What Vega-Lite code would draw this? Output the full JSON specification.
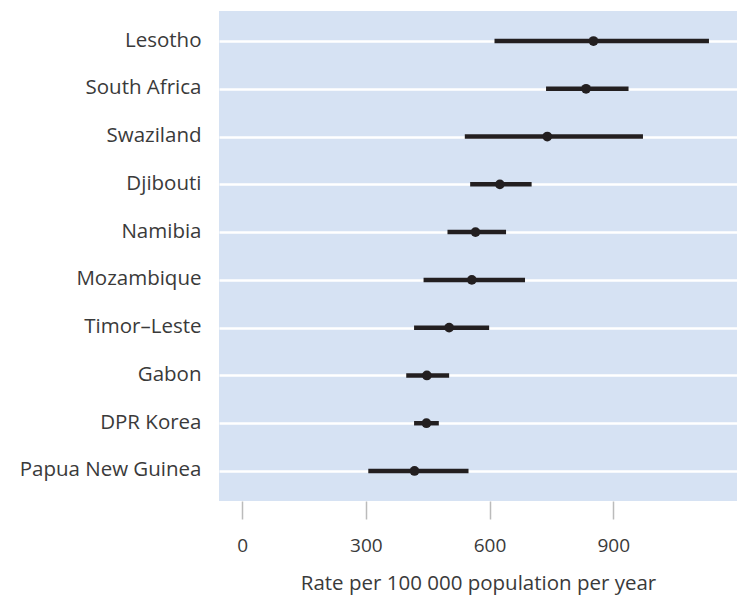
{
  "$schema": "https://vega.github.io/schema/vega-lite/v6.json",
  "autosize": {"type": "none"},
  "padding": {"left": 219, "top": 11, "right": 0, "bottom": 96},
  "width": 518,
  "height": 490,
  "background": "white",
  "config": {
    "view": {"fill": "#d6e2f3", "stroke": null},
    "font": "Open Sans"
  },
  "data": {
    "values": [
      {"country": "Lesotho", "rate": 852, "low": 612, "high": 1132},
      {"country": "South Africa", "rate": 834, "low": 737, "high": 937},
      {"country": "Swaziland", "rate": 740, "low": 540, "high": 972},
      {"country": "Djibouti", "rate": 625, "low": 553, "high": 702},
      {"country": "Namibia", "rate": 566, "low": 498, "high": 640},
      {"country": "Mozambique", "rate": 557, "low": 440, "high": 686},
      {"country": "Timor–Leste", "rate": 502, "low": 417, "high": 599},
      {"country": "Gabon", "rate": 448, "low": 398, "high": 502},
      {"country": "DPR Korea", "rate": 447, "low": 417, "high": 477},
      {"country": "Papua New Guinea", "rate": 418, "low": 306, "high": 549}
    ]
  },
  "encoding": {
    "y": {
      "field": "country",
      "type": "nominal",
      "sort": null,
      "scale": {"type": "point", "padding": 0.628},
      "axis": {
        "title": null,
        "domain": false,
        "ticks": false,
        "grid": true,
        "gridColor": "white",
        "gridWidth": 2.5,
        "labelPadding": 18,
        "labelFontSize": 20.5,
        "labelLimit": 300,
        "labelColor": "#3a3a3a",
        "labelFont": "Open Sans",
        "labelOffset": -1
      }
    }
  },
  "layer": [
    {
      "mark": {"type": "rule", "strokeWidth": 4.5, "color": "#231f20", "strokeCap": "butt"},
      "encoding": {
        "x": {
          "field": "low",
          "type": "quantitative",
          "scale": {"domain": [-56, 1200], "nice": false, "zero": false},
          "axis": {
            "values": [0, 300, 600, 900],
            "title": "Rate per 100 000 population per year",
            "titleFontSize": 20.5,
            "titleFontWeight": "normal",
            "titleColor": "#3a3a3a",
            "titlePadding": 18,
            "titleFont": "Open Sans",
            "domain": false,
            "grid": false,
            "tickColor": "#bbbbbb",
            "tickSize": 18,
            "tickWidth": 1.5,
            "labelFontSize": 19,
            "labelColor": "#3a3a3a",
            "labelPadding": 17,
            "labelFont": "Open Sans"
          }
        },
        "x2": {"field": "high"}
      }
    },
    {
      "mark": {"type": "circle", "size": 95, "opacity": 1, "color": "#231f20"},
      "encoding": {
        "x": {"field": "rate", "type": "quantitative"}
      }
    }
  ]
}
